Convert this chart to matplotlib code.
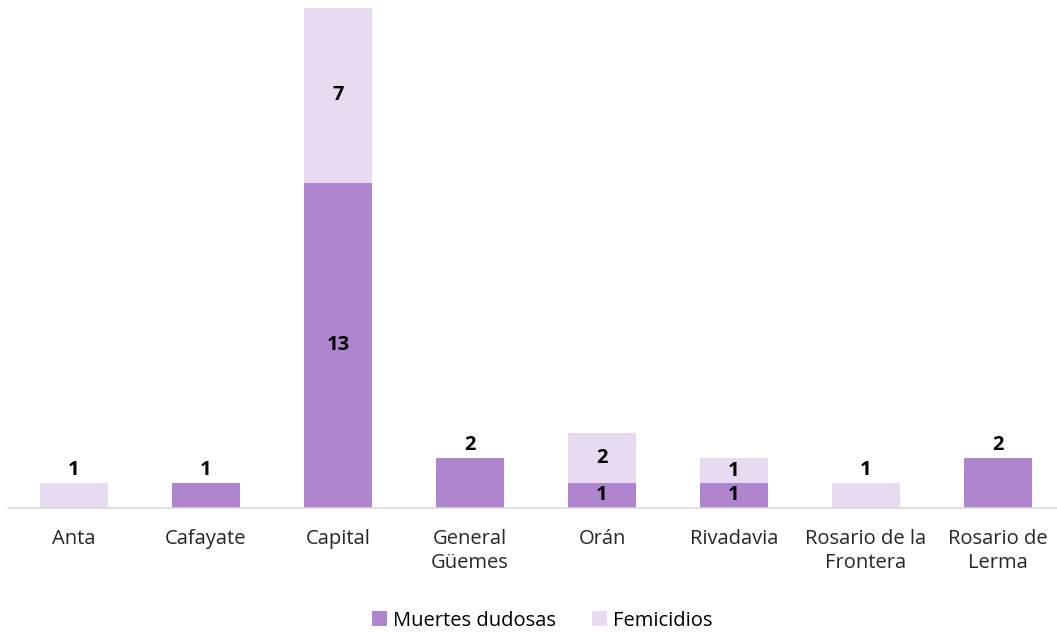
import matplotlib.pyplot as plt
import numpy as np

plt.rcParams['font.family'] = ['Open Sans', 'DejaVu Sans']

categorias = ['Anta', 'Cafayate', 'Capital', 'General\nGüemes', 'Orán',
              'Rivadavia', 'Rosario de la\nFrontera', 'Rosario de\nLerma']
muertes_dudosas = [0, 1, 13, 2, 1, 1, 0, 2]
femicidios = [1, 0, 7, 0, 2, 1, 1, 0]

color_md = '#B085CF'
color_fem = '#E8DAF0'

fig = plt.figure(figsize=(10.57, 6.33), dpi=100)
ax = fig.add_axes([8 / 1057, 125 / 633, 1056 / 1057, 500 / 633])

x = np.arange(len(categorias))
ancho = 68 / 132
b1 = ax.bar(x, muertes_dudosas, ancho, color=color_md, label='Muertes dudosas')
b2 = ax.bar(x, femicidios, ancho, bottom=muertes_dudosas, color=color_fem, label='Femicidios')

# etiquetas: centradas si la barra tiene dos segmentos, encima si tiene uno
for i in range(len(categorias)):
    md, fe = muertes_dudosas[i], femicidios[i]
    if md > 0 and fe > 0:
        ax.text(x[i], md / 2, str(md), ha='center', va='center', fontsize=14.5, fontweight='bold')
        ax.text(x[i], md + fe / 2, str(fe), ha='center', va='center', fontsize=14.5, fontweight='bold')
    else:
        total = md + fe
        ax.text(x[i], total + 0.12, str(total), ha='center', va='bottom', fontsize=14.5, fontweight='bold')

ax.set_xlim(-0.5, len(categorias) - 0.5)
ax.set_ylim(0, 20)
ax.set_xticks(x)
ax.set_xticklabels(categorias, fontsize=14.5, color='#262626', linespacing=1.3)
ax.tick_params(axis='x', length=0, pad=15)
ax.set_yticks([])
for lado in ['top', 'right', 'left']:
    ax.spines[lado].set_visible(False)
ax.spines['bottom'].set_color('#D9D9D9')
ax.spines['bottom'].set_linewidth(1.2)

fig.legend(loc='lower center', bbox_to_anchor=(0.513, -0.025), ncol=2, frameon=False,
           fontsize=14.5, handlelength=0.75, handleheight=0.75, handletextpad=0.3,
           columnspacing=1.8)

plt.savefig('out.png', dpi=100)
